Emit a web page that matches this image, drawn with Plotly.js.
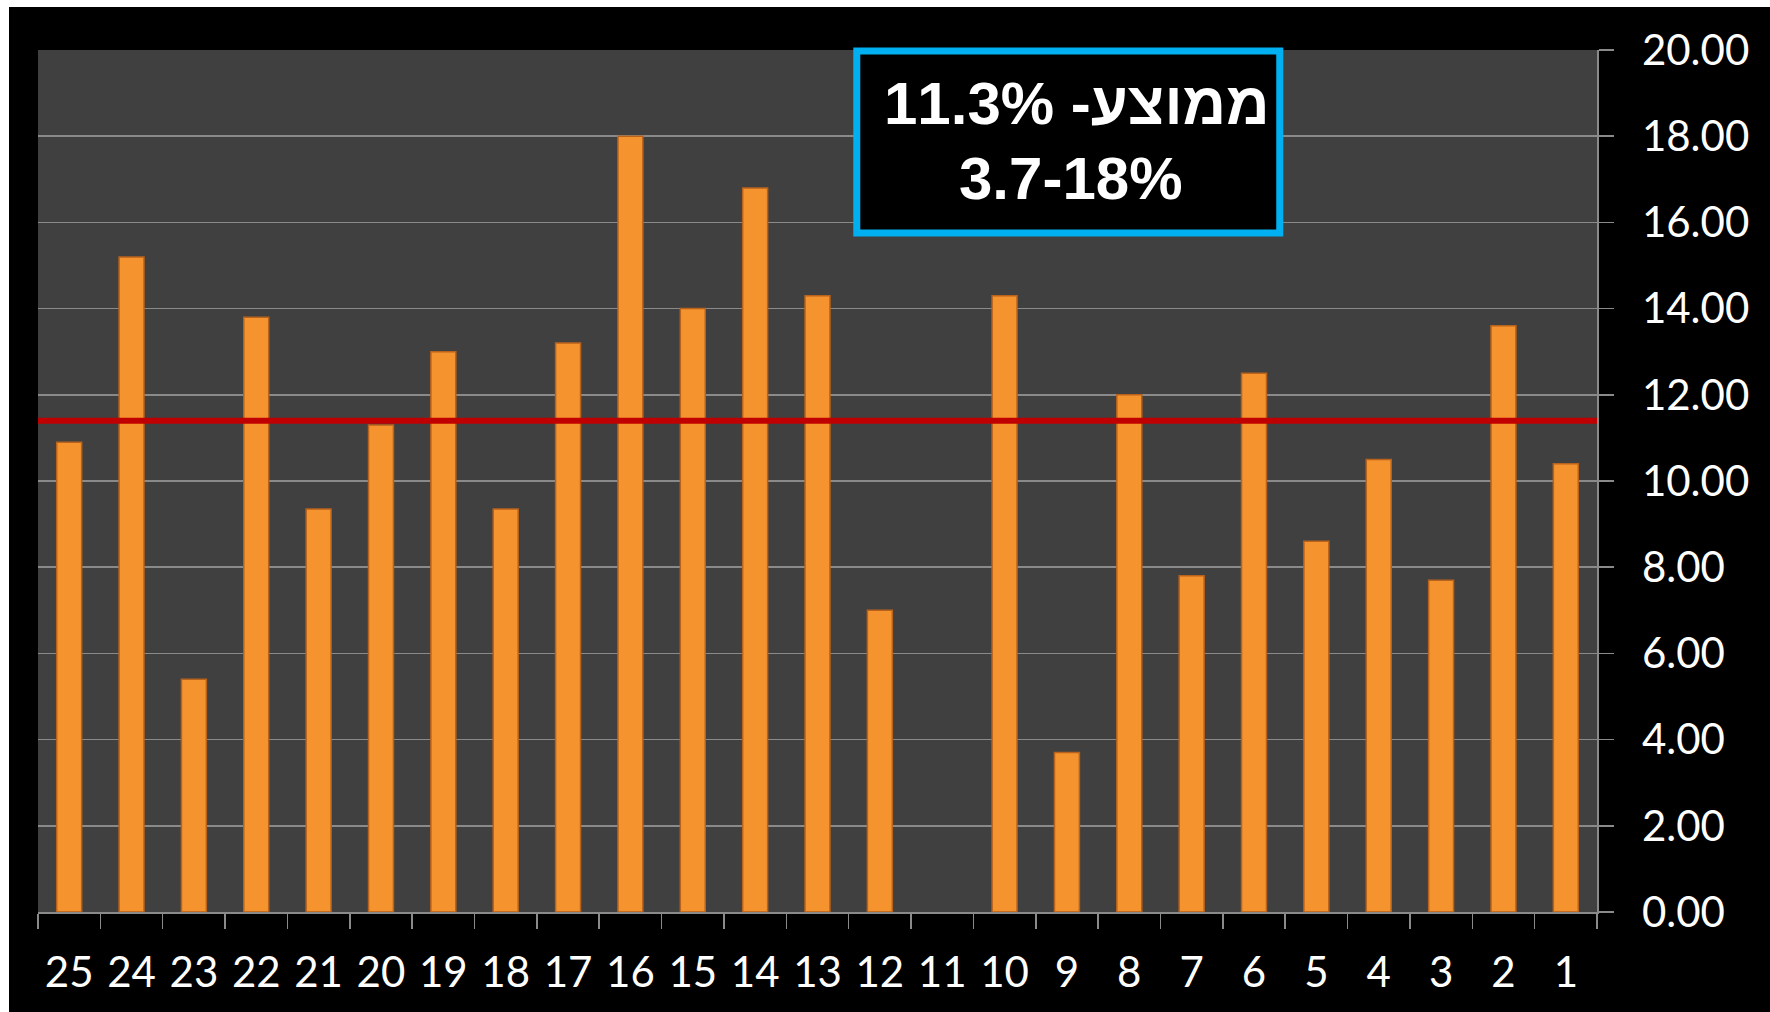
<!DOCTYPE html>
<html>
<head>
<meta charset="utf-8">
<script src="https://cdn.plot.ly/plotly-3.0.1.min.js"></script>
<style>
  html, body { margin: 0; padding: 0; background: #ffffff; width: 1770px; height: 1012px; overflow: hidden; }
  #chart { position: absolute; left: 9px; top: 7px; width: 1761px; height: 1005px; }
</style>
</head>
<body>
<div id="chart"></div>
<script>
// Categories (drawn left to right)
const categories = ['25','24','23','22','21','20','19','18','17','16','15','14','13','12','11','10','9','8','7','6','5','4','3','2','1'];
// Bar values (category 11 has no bar)
const values = [10.9, 15.2, 5.4, 13.8, 9.35, 11.3, 13.0, 9.35, 13.2, 18.0, 14.0, 16.8, 14.3, 7.0, null, 14.3, 3.7, 12.0, 7.8, 12.5, 8.6, 10.5, 7.7, 13.6, 10.4];
// Average line level
const averageValue = 11.4;
// Annotation text
const boxLine1 = '11.3% -ממוצע';
const boxLine2 = '3.7-18%';
const yTicks = [0, 2, 4, 6, 8, 10, 12, 14, 16, 18, 20];

const gridColor = '#8a8a8a';

const traces = [{
  type: 'bar',
  x: categories,
  y: values,
  marker: { color: '#f5932e', line: { color: '#b8621c', width: 1.5 } },
  hoverinfo: 'x+y'
}];

const layout = {
  width: 1761,
  height: 1005,
  margin: { l: 29, r: 173, t: 43, b: 100 },
  paper_bgcolor: '#000000',
  plot_bgcolor: '#404040',
  showlegend: false,
  bargap: 0.6,
  font: { family: 'Lato, "Open Sans", sans-serif', color: '#ffffff', size: 42 },
  xaxis: {
    type: 'category',
    categoryorder: 'array',
    categoryarray: categories,
    tickson: 'boundaries',
    ticks: 'outside',
    ticklen: 15,
    tickwidth: 1.5,
    tickcolor: gridColor,
    showline: true,
    linecolor: gridColor,
    linewidth: 1.5,
    showgrid: false,
    ticklabelstandoff: 23,
    tickfont: { family: 'Lato, "Open Sans", sans-serif', size: 42, color: '#ffffff' },
    fixedrange: true
  },
  yaxis: {
    side: 'right',
    range: [0, 20],
    tickvals: yTicks,
    tickformat: '.2f',
    ticks: 'outside',
    ticklen: 15,
    tickwidth: 1.5,
    tickcolor: gridColor,
    showline: true,
    linecolor: gridColor,
    linewidth: 1.5,
    showgrid: true,
    gridcolor: gridColor,
    gridwidth: 1.5,
    zeroline: false,
    ticklabelstandoff: 20,
    tickfont: { family: 'Lato, "Open Sans", sans-serif', size: 42, color: '#ffffff' },
    fixedrange: true
  },
  shapes: [
    {
      type: 'line', xref: 'paper', yref: 'y',
      x0: 0, x1: 1, y0: averageValue, y1: averageValue,
      line: { color: '#c00000', width: 6 }
    },
    {
      type: 'rect', xref: 'paper', yref: 'paper',
      x0: 0.5252, x1: 0.7965, y0: 0.7877, y1: 0.9988,
      fillcolor: '#000000',
      line: { color: '#00b0f0', width: 7 }
    }
  ],
  annotations: [
    {
      xref: 'paper', yref: 'paper',
      x: 0.6665, y: 0.9374,
      text: boxLine1,
      showarrow: false,
      xanchor: 'center', yanchor: 'middle',
      font: { family: '"Liberation Sans", Arial, sans-serif', size: 60, color: '#ffffff', weight: 'bold' }
    },
    {
      xref: 'paper', yref: 'paper',
      x: 0.6626, y: 0.8515,
      text: boxLine2,
      showarrow: false,
      xanchor: 'center', yanchor: 'middle',
      font: { family: '"Liberation Sans", Arial, sans-serif', size: 60, color: '#ffffff', weight: 'bold' }
    }
  ]
};

Plotly.newPlot('chart', traces, layout, { displayModeBar: false, staticPlot: true });
</script>
</body>
</html>
